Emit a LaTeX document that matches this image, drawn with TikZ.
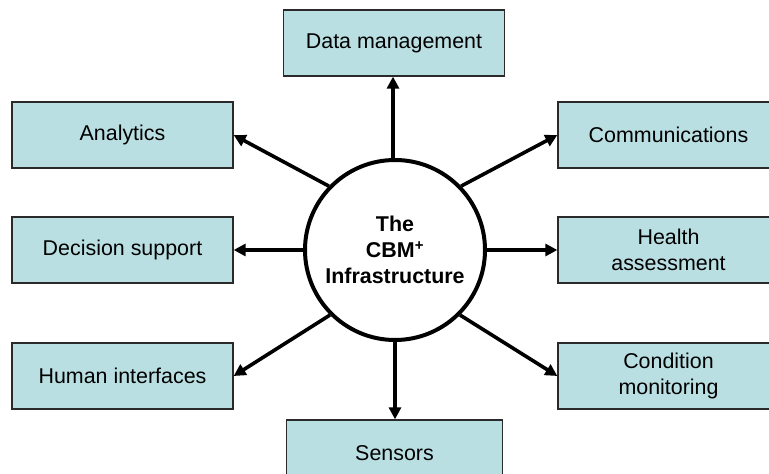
\documentclass[tikz,border=0pt]{standalone}
\usepackage{fontspec}
\setmainfont{Liberation Sans}
\usetikzlibrary{arrows.meta}
\definecolor{boxfill}{HTML}{B9DFE2}
\definecolor{boxline}{HTML}{2A2A2A}
\tikzset{
  x=1bp, y=-1bp,
  infobox/.style={draw=boxline, line width=1.3bp, fill=boxfill, minimum width=221bp, minimum height=66bp,
    inner sep=0pt, align=center, font=\fontsize{21.5}{26}\selectfont},
  hub/.style={circle, draw=black, line width=4bp, fill=white, minimum size=180bp, inner sep=0pt,
    align=center, font=\fontsize{21.5}{26}\selectfont\bfseries},
  link/.style={line width=3.6bp, -{Triangle[length=12bp,width=12bp]}}
}
\begin{document}
\begin{tikzpicture}
\useasboundingbox (0,0) rectangle (769,474);
\clip (0,0) rectangle (769,474);
\node[hub] (c) at (395,250) {The\\CBM\textsuperscript{+}\\Infrastructure};
\node[infobox] (dm) at (394,43) {Data management};
\node[infobox] (an) at (122.5,135) {Analytics};
\node[infobox] (co) at (668.5,135) {Communications};
\node[infobox] (ds) at (122.5,250) {Decision support};
\node[infobox] (ha) at (668.5,250) {Health\\assessment};
\node[infobox] (hi) at (122.5,376) {Human interfaces};
\node[infobox] (cm) at (668.5,376) {Condition\\monitoring};
\node[infobox, minimum width=216bp] (se) at (394.5,453) {Sensors};
\draw[link] (c.north) ++(-2,0) coordinate (cn) -- (cn |- dm.south);
\draw[link] (c.south) -- (c.south |- se.north);
\draw[link] (c.136) -- (an.east);
\draw[link] (c.44) -- (co.west);
\draw[link] (c.west) -- (ds.east);
\draw[link] (c.east) -- (ha.west);
\draw[link] (c.225) -- (hi.east);
\draw[link] (c.315) -- (cm.west);
\end{tikzpicture}
\end{document}
